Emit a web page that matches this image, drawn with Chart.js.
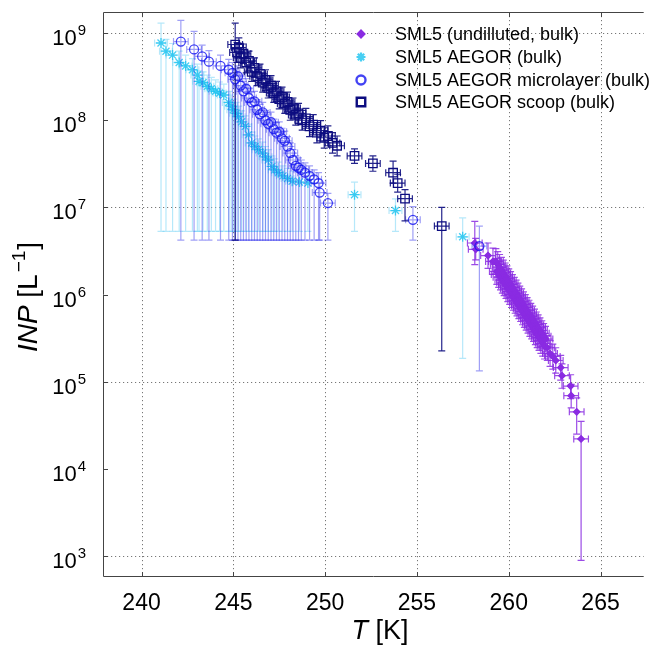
<!DOCTYPE html>
<html>
<head>
<meta charset="utf-8">
<script src="https://cdn.jsdelivr.net/npm/chart.js@4.4.0/dist/chart.umd.min.js"></script>
<style>
  html, body { margin: 0; padding: 0; background: #fff; }
  #wrap { width: 651px; height: 646px; }
</style>
</head>
<body>
<div id="wrap"><canvas id="inpChart" width="651" height="646"></canvas></div>
<script>
// SML5 (undiluted, bulk)
const undilT = [258.15, 258.20, 258.87, 259.14, 259.30, 259.35, 259.40, 259.45, 259.50, 259.55, 259.60, 259.65,
  259.70, 259.75, 259.80, 259.85, 259.90, 259.95, 260.00, 260.05, 260.10, 260.15, 260.20, 260.25, 260.30,
  260.35, 260.40, 260.45, 260.50, 260.55, 260.60, 260.65, 260.70, 260.75, 260.80, 260.85, 260.90, 260.95,
  261.00, 261.05, 261.10, 261.15, 261.20, 261.25, 261.30, 261.35, 261.40, 261.45, 261.50, 261.55, 261.60,
  261.65, 261.70, 261.75, 261.80, 261.85, 261.90, 261.95, 262.00, 262.10, 262.25, 262.40, 262.56, 262.83,
  262.90, 263.37, 263.40, 263.70, 263.94];
const undilINP = [3.9e6, 3.3e6, 2.8e6, 2.4e6, 2.40e6, 1.84e6, 2.22e6, 1.70e6, 2.06e6, 1.58e6, 1.91e6, 1.46e6,
  1.77e6, 1.36e6, 1.64e6, 1.26e6, 1.52e6, 1.16e6, 1.41e6, 1.08e6, 1.31e6, 1.00e6, 1.21e6, 9.27e5, 1.12e6,
  8.59e5, 1.04e6, 7.96e5, 9.64e5, 7.38e5, 8.93e5, 6.84e5, 8.28e5, 6.34e5, 7.67e5, 5.87e5, 7.11e5, 5.44e5,
  6.59e5, 5.05e5, 6.11e5, 4.68e5, 5.66e5, 4.34e5, 5.25e5, 4.02e5, 4.86e5, 3.72e5, 4.51e5, 3.45e5, 4.18e5,
  3.20e5, 3.87e5, 2.96e5, 3.59e5, 2.75e5, 3.33e5, 2.55e5, 3.08e5, 2.45e5, 2.1e5, 1.95e5, 1.75e5, 1.45e5,
  1.17e5, 8.9e4, 6.9e4, 4.5e4, 2.2e4];
const undilLo = [2.2e6, 2.5e6, 2.0e6, 1.7e6, 1.71e6, 1.31e6, 1.59e6, 1.21e6, 1.47e6, 1.13e6, 1.36e6, 1.04e6,
  1.26e6, 9.7e5, 1.17e6, 9.0e5, 1.09e6, 8.3e5, 1.01e6, 7.7e5, 9.4e5, 7.1e5, 8.6e5, 6.6e5, 8.0e5,
  6.1e5, 7.4e5, 5.7e5, 6.9e5, 5.3e5, 6.4e5, 4.9e5, 5.9e5, 4.5e5, 5.5e5, 4.2e5, 5.1e5, 3.9e5,
  4.7e5, 3.6e5, 4.4e5, 3.3e5, 4.0e5, 3.1e5, 3.75e5, 2.9e5, 3.5e5, 2.66e5, 3.2e5, 2.46e5, 3.0e5,
  2.29e5, 2.76e5, 2.11e5, 2.56e5, 1.96e5, 2.38e5, 1.82e5, 2.2e5, 1.75e5, 1.5e5, 1.39e5, 1.25e5, 1.04e5,
  8.4e4, 6.4e4, 5.0e4, 2.5e4, 890];
const undilHi = [6.9e6, 4.4e6, 3.9e6, 3.4e6, 3.36e6, 2.58e6, 3.11e6, 2.38e6, 2.88e6, 2.21e6, 2.67e6, 2.04e6,
  2.48e6, 1.90e6, 2.30e6, 1.76e6, 2.13e6, 1.62e6, 1.97e6, 1.51e6, 1.83e6, 1.40e6, 1.69e6, 1.30e6, 1.57e6,
  1.20e6, 1.46e6, 1.11e6, 1.35e6, 1.03e6, 1.25e6, 9.6e5, 1.16e6, 8.9e5, 1.07e6, 8.2e5, 9.95e5, 7.6e5,
  9.2e5, 7.1e5, 8.6e5, 6.6e5, 7.9e5, 6.1e5, 7.35e5, 5.6e5, 6.8e5, 5.2e5, 6.3e5, 4.8e5, 5.85e5,
  4.5e5, 5.4e5, 4.1e5, 5.0e5, 3.85e5, 4.65e5, 3.57e5, 4.3e5, 3.4e5, 2.95e5, 2.7e5, 2.45e5, 2.0e5,
  1.6e5, 1.2e5, 9.3e4, 6.5e4, 3.5e4];
const undilTErr = 0.4;

// SML5 AEGOR (bulk)
const aegorT = [241.06, 241.33, 241.69, 242.05, 242.40, 242.77, 243.04, 243.13, 243.35, 243.58, 243.80, 244.03,
  244.25, 244.48, 244.75, 244.88, 245.00, 245.15, 245.29, 245.45, 245.65, 245.82, 246.00, 246.18, 246.37,
  246.60, 246.75, 246.90, 247.10, 247.25, 247.44, 247.70, 247.95, 248.20, 248.60, 249.06, 251.60, 253.83,
  257.49];
const aegorINP = [7.7e8, 6.2e8, 5.6e8, 4.6e8, 4.2e8, 3.8e8, 3.3e8, 2.8e8, 2.7e8, 2.45e8, 2.3e8, 2.15e8,
  2.05e8, 1.95e8, 1.6e8, 1.45e8, 1.32e8, 1.2e8, 1.1e8, 9.6e7, 8.5e7, 6.8e7, 5.5e7, 5.0e7, 4.6e7,
  4.2e7, 3.8e7, 3.5e7, 2.95e7, 2.7e7, 2.5e7, 2.3e7, 2.15e7, 2.0e7, 1.95e7, 1.9e7, 1.4e7, 9.2e6,
  4.6e6];
const aegorLo = [5.3e6, 5.3e6, 5.3e6, 5.3e6, 5.3e6, 5.3e6, 5.3e6, 5.3e6, 5.3e6, 5.3e6, 5.3e6, 5.3e6,
  5.3e6, 5.3e6, 5.3e6, 5.3e6, 5.3e6, 5.3e6, 5.3e6, 5.3e6, 5.3e6, 5.3e6, 5.3e6, 5.3e6, 5.3e6,
  5.3e6, 5.3e6, 5.3e6, 5.3e6, 5.3e6, 5.3e6, 5.3e6, 5.3e6, 5.3e6, 5.3e6, 5.3e6, 5.3e6, 5.3e6,
  1.85e5];
const aegorHi = [1.3e9, 8.5e8, 7.6e8, 6.2e8, 5.6e8, 5.1e8, 4.4e8, 3.7e8, 3.6e8, 3.3e8, 3.1e8, 2.9e8,
  2.75e8, 2.6e8, 2.15e8, 1.95e8, 1.75e8, 1.6e8, 1.45e8, 1.28e8, 1.12e8, 9.0e7, 7.3e7, 6.6e7, 6.1e7,
  5.6e7, 5.0e7, 4.6e7, 3.9e7, 3.6e7, 3.3e7, 3.0e7, 2.8e7, 2.6e7, 2.55e7, 2.5e7, 1.95e7, 1.25e7,
  7.6e6];
const aegorTErr = 0.35;

// SML5 AEGOR microlayer (bulk)
const microT = [242.14, 242.86, 243.30, 243.67, 244.30, 244.75, 244.95, 245.10, 245.25, 245.40, 245.55, 245.70,
  245.85, 246.00, 246.15, 246.30, 246.45, 246.60, 246.75, 246.90, 247.05, 247.20, 247.35, 247.50, 247.65,
  247.80, 247.95, 248.10, 248.25, 248.40, 248.55, 248.70, 248.90, 249.15, 249.40, 249.64, 249.70, 250.15,
  254.78, 258.40];
const microINP = [8.0e8, 6.5e8, 5.4e8, 4.7e8, 4.2e8, 3.8e8, 3.5e8, 2.95e8, 3.2e8, 2.5e8, 2.15e8, 2.3e8,
  1.8e8, 1.6e8, 1.65e8, 1.32e8, 1.17e8, 1.23e8, 1.0e8, 9.1e7, 9.5e7, 7.9e7, 7.2e7, 7.4e7, 6.2e7,
  5.8e7, 5.0e7, 4.2e7, 3.5e7, 3.0e7, 2.85e7, 2.7e7, 2.5e7, 2.3e7, 2.1e7, 1.9e7, 1.48e7, 1.12e7,
  7.2e6, 3.6e6];
const microLo = [4.2e6, 4.2e6, 4.2e6, 4.2e6, 4.2e6, 4.2e6, 4.2e6, 4.2e6, 4.2e6, 4.2e6, 4.2e6, 4.2e6,
  4.2e6, 4.2e6, 4.2e6, 4.2e6, 4.2e6, 4.2e6, 4.2e6, 4.2e6, 4.2e6, 4.2e6, 4.2e6, 4.2e6, 4.2e6,
  4.2e6, 4.2e6, 4.2e6, 4.2e6, 4.2e6, 4.2e6, 4.2e6, 4.2e6, 4.2e6, 4.2e6, 4.2e6, 4.2e6, 4.2e6,
  4.2e6, 1.33e5];
const microHi = [1.4e9, 1.05e9, 7.3e8, 6.3e8, 5.6e8, 5.0e8, 4.6e8, 3.9e8, 4.2e8, 3.3e8, 2.8e8, 3.0e8,
  2.35e8, 2.1e8, 2.15e8, 1.72e8, 1.52e8, 1.6e8, 1.3e8, 1.18e8, 1.24e8, 1.03e8, 9.4e7, 9.6e7, 8.1e7,
  7.5e7, 6.5e7, 5.5e7, 4.6e7, 3.9e7, 3.7e7, 3.5e7, 3.25e7, 3.0e7, 2.7e7, 2.5e7, 1.9e7, 1.45e7,
  1.02e7, 6.1e6];
const microTErr = 0.4;

// SML5 AEGOR scoop (bulk)
const scoopT = [245.10, 245.20, 245.30, 245.40, 245.55, 245.70, 245.85, 246.00, 246.15, 246.30, 246.45, 246.60,
  246.75, 246.90, 247.05, 247.20, 247.35, 247.50, 247.65, 247.80, 247.95, 248.10, 248.25, 248.40, 248.55,
  248.75, 248.95, 249.15, 249.35, 249.55, 249.75, 249.95, 250.15, 250.40, 250.65, 251.60, 252.60, 253.70,
  253.95, 254.35, 256.35];
const scoopINP = [7.4e8, 6.0e8, 6.8e8, 5.2e8, 5.8e8, 4.6e8, 4.8e8, 3.6e8, 4.0e8, 3.2e8, 3.4e8, 2.7e8,
  2.9e8, 2.35e8, 2.5e8, 2.05e8, 2.15e8, 1.75e8, 1.85e8, 1.55e8, 1.62e8, 1.32e8, 1.38e8, 1.15e8, 1.2e8,
  1.0e8, 1.05e8, 8.5e7, 8.9e7, 7.2e7, 7.6e7, 6.3e7, 6.6e7, 5.5e7, 5.1e7, 3.9e7, 3.2e7, 2.5e7,
  1.9e7, 1.26e7, 6.1e6];
const scoopLo = [4.2e6, 4.6e8, 5.2e8, 4.0e8, 4.5e8, 3.5e8, 3.7e8, 2.8e8, 3.1e8, 2.5e8, 2.6e8, 2.1e8,
  2.2e8, 1.8e8, 1.9e8, 1.6e8, 1.65e8, 1.35e8, 1.4e8, 1.2e8, 1.25e8, 1.0e8, 1.06e8, 8.8e7, 9.2e7,
  7.7e7, 8.1e7, 6.5e7, 6.8e7, 5.5e7, 5.8e7, 4.8e7, 5.1e7, 4.2e7, 3.9e7, 3.2e7, 2.6e7, 1.9e7,
  1.5e7, 7.0e6, 2.25e5];
const scoopHi = [1.3e9, 7.8e8, 8.8e8, 6.8e8, 7.5e8, 6.0e8, 6.2e8, 4.7e8, 5.2e8, 4.2e8, 4.4e8, 3.5e8,
  3.8e8, 3.05e8, 3.25e8, 2.65e8, 2.8e8, 2.3e8, 2.4e8, 2.0e8, 2.1e8, 1.7e8, 1.8e8, 1.5e8, 1.56e8,
  1.3e8, 1.37e8, 1.1e8, 1.16e8, 9.4e7, 9.9e7, 8.2e7, 8.6e7, 7.2e7, 6.6e7, 4.7e7, 3.9e7, 3.4e7,
  2.4e7, 1.6e7, 1.0e7];
const scoopTErr = 0.4;

const seriesLabels = ['SML5 (undilluted, bulk)', 'SML5 AEGOR (bulk)', 'SML5 AEGOR microlayer (bulk)', 'SML5 AEGOR scoop (bulk)'];

// axis ticks
const xTickValues = [240, 245, 250, 255, 260, 265];
const yTickExponents = [3, 4, 5, 6, 7, 8, 9];
const yGridExponents = [3, 5, 7, 9];

const FONT = '"Liberation Sans", Arial, Helvetica, sans-serif';

const series = [
  { label: seriesLabels[0], T: undilT, v: undilINP, lo: undilLo, hi: undilHi, tErr: undilTErr,
    marker: '#8a2be2', bar: 'rgba(138,43,226,0.85)', style: 'rectRot', radius: 3.2, filled: true, order: 4 },
  { label: seriesLabels[1], T: aegorT, v: aegorINP, lo: aegorLo, hi: aegorHi, tErr: aegorTErr,
    marker: 'rgba(25,195,240,0.8)', bar: 'rgba(110,210,245,0.5)', style: 'star', radius: 5, filled: false, order: 3 },
  { label: seriesLabels[2], T: microT, v: microINP, lo: microLo, hi: microHi, tErr: microTErr,
    marker: 'rgba(20,20,240,0.8)', bar: 'rgba(45,45,235,0.45)', style: 'circle', radius: 4.5, filled: false, order: 2 },
  { label: seriesLabels[3], T: scoopT, v: scoopINP, lo: scoopLo, hi: scoopHi, tErr: scoopTErr,
    marker: '#0c0c80', bar: 'rgba(12,12,128,0.9)', style: 'rect', radius: 6, filled: false, order: 1 }
];

const datasets = series.map(s => ({
  label: s.label,
  data: s.T.map((t, i) => ({ x: t, y: s.v[i] })),
  pointStyle: s.style,
  pointRadius: s.radius,
  pointBorderWidth: 1.3,
  borderColor: s.marker,
  backgroundColor: s.filled ? s.marker : 'rgba(0,0,0,0)',
  showLine: false,
  order: s.order
}));

const capHalf = 3.5;

const decorations = {
  id: 'decorations',
  beforeDatasetsDraw(chart) {
    const { ctx, chartArea: a, scales: { x, y } } = chart;
    ctx.save();
    ctx.strokeStyle = '#777';
    ctx.lineWidth = 1;
    ctx.setLineDash([1.2, 2.8]);
    xTickValues.forEach(v => {
      const px = Math.round(x.getPixelForValue(v)) + 0.5;
      ctx.beginPath(); ctx.moveTo(px, a.top); ctx.lineTo(px, a.bottom); ctx.stroke();
    });
    yGridExponents.forEach(e => {
      const py = Math.round(y.getPixelForValue(Math.pow(10, e))) + 0.5;
      ctx.beginPath(); ctx.moveTo(a.left, py); ctx.lineTo(a.right, py); ctx.stroke();
    });
    ctx.restore();
  },
  beforeDatasetDraw(chart, args) {
    const s = series[args.index];
    const { ctx, chartArea: a, scales: { x, y } } = chart;
    ctx.save();
    ctx.beginPath(); ctx.rect(a.left, a.top, a.right - a.left, a.bottom - a.top); ctx.clip();
    ctx.strokeStyle = s.bar;
    ctx.lineWidth = 1.2;
    s.T.forEach((t, i) => {
      const px = x.getPixelForValue(t);
      const py = y.getPixelForValue(s.v[i]);
      const yl = y.getPixelForValue(s.lo[i]);
      const yh = y.getPixelForValue(s.hi[i]);
      const xl = x.getPixelForValue(t - s.tErr);
      const xr = x.getPixelForValue(t + s.tErr);
      ctx.beginPath();
      ctx.moveTo(px, yh); ctx.lineTo(px, yl);
      ctx.moveTo(px - capHalf, yh); ctx.lineTo(px + capHalf, yh);
      ctx.moveTo(px - capHalf, yl); ctx.lineTo(px + capHalf, yl);
      ctx.moveTo(xl, py); ctx.lineTo(xr, py);
      ctx.moveTo(xl, py - capHalf); ctx.lineTo(xl, py + capHalf);
      ctx.moveTo(xr, py - capHalf); ctx.lineTo(xr, py + capHalf);
      ctx.stroke();
    });
    ctx.restore();
  },
  afterDraw(chart) {
    const { ctx, chartArea: a, scales: { x, y } } = chart;
    ctx.save();
    // frame
    ctx.strokeStyle = '#444';
    ctx.lineWidth = 1;
    ctx.beginPath();
    ctx.moveTo(a.right, a.top + 0.5); ctx.lineTo(a.left + 0.5, a.top + 0.5);
    ctx.lineTo(a.left + 0.5, a.bottom - 0.5); ctx.lineTo(a.right, a.bottom - 0.5);
    ctx.stroke();
    // inward ticks
    ctx.beginPath();
    xTickValues.forEach(v => {
      const px = Math.round(x.getPixelForValue(v)) + 0.5;
      ctx.moveTo(px, a.bottom); ctx.lineTo(px, a.bottom - 5);
      ctx.moveTo(px, a.top); ctx.lineTo(px, a.top + 5);
    });
    yTickExponents.forEach(e => {
      const py = Math.round(y.getPixelForValue(Math.pow(10, e))) + 0.5;
      ctx.moveTo(a.left, py); ctx.lineTo(a.left + 5, py);
    });
    ctx.stroke();

    // x tick labels
    ctx.fillStyle = '#000';
    ctx.font = '23px ' + FONT;
    ctx.textAlign = 'center';
    ctx.textBaseline = 'alphabetic';
    xTickValues.forEach(v => ctx.fillText(String(v), x.getPixelForValue(v), 610));

    // y tick labels 10^n
    yTickExponents.forEach(e => {
      const py = y.getPixelForValue(Math.pow(10, e));
      ctx.font = '15px ' + FONT;
      const ew = ctx.measureText(String(e)).width;
      ctx.textAlign = 'right';
      ctx.fillText(String(e), 86, py + 2);
      ctx.font = '22px ' + FONT;
      ctx.fillText('10', 86 - ew - 1, py + 12);
    });

    // x title
    ctx.textAlign = 'left';
    ctx.font = 'italic 27px ' + FONT;
    const tW = ctx.measureText('T').width;
    ctx.font = '27px ' + FONT;
    const kW = ctx.measureText(' [K]').width;
    const sx = 380 - (tW + kW) / 2;
    ctx.font = 'italic 27px ' + FONT;
    ctx.fillText('T', sx, 639);
    ctx.font = '27px ' + FONT;
    ctx.fillText(' [K]', sx + tW, 639);

    // y title
    ctx.save();
    ctx.translate(37, 297);
    ctx.rotate(-Math.PI / 2);
    ctx.font = 'italic 28px ' + FONT;
    const iW = ctx.measureText('INP').width;
    ctx.font = '28px ' + FONT;
    const lW = ctx.measureText(' [L').width;
    ctx.font = '19px ' + FONT;
    const sW = ctx.measureText('\u22121').width;
    ctx.font = '28px ' + FONT;
    const bW = ctx.measureText(']').width;
    let tx = -(iW + lW + sW + bW + 3) / 2;
    ctx.font = 'italic 28px ' + FONT;
    ctx.fillText('INP', tx, 0); tx += iW;
    ctx.font = '28px ' + FONT;
    ctx.fillText(' [L', tx, 0); tx += lW + 2;
    ctx.font = '19px ' + FONT;
    ctx.fillText('\u22121', tx, -12); tx += sW + 1;
    ctx.font = '28px ' + FONT;
    ctx.fillText(']', tx, 0);
    ctx.restore();

    // legend
    const rowY = [34, 57, 80, 102];
    series.forEach((s, i) => {
      ctx.save();
      ctx.strokeStyle = s.marker;
      ctx.fillStyle = s.filled ? s.marker : 'rgba(0,0,0,0)';
      ctx.lineWidth = s.style === 'star' ? 2.2 : 2.4;
      Chart.helpers.drawPoint(ctx, { pointStyle: s.style, radius: s.style === 'rectRot' ? 3.2 : (s.style === 'rect' ? 6 : 4.5), rotation: 0, borderWidth: ctx.lineWidth }, 361, rowY[i]);
      ctx.restore();
      ctx.fillStyle = '#000';
      ctx.font = '18px ' + FONT;
      ctx.textAlign = 'left';
      ctx.textBaseline = 'middle';
      ctx.fillText(s.label, 395, rowY[i] + 1);
      ctx.textBaseline = 'alphabetic';
    });
    ctx.restore();
  }
};

new Chart(document.getElementById('inpChart'), {
  type: 'scatter',
  data: { datasets: datasets },
  options: {
    responsive: false,
    animation: false,
    layout: { padding: { left: 103, top: 12, right: 0, bottom: 69 } },
    plugins: { legend: { display: false }, tooltip: { enabled: false } },
    scales: {
      x: { type: 'linear', min: 237.9, max: 267.35, display: false },
      y: { type: 'logarithmic', min: Math.pow(10, 2.758), max: Math.pow(10, 9.2425), display: false }
    }
  },
  plugins: [decorations]
});
</script>
</body>
</html>
